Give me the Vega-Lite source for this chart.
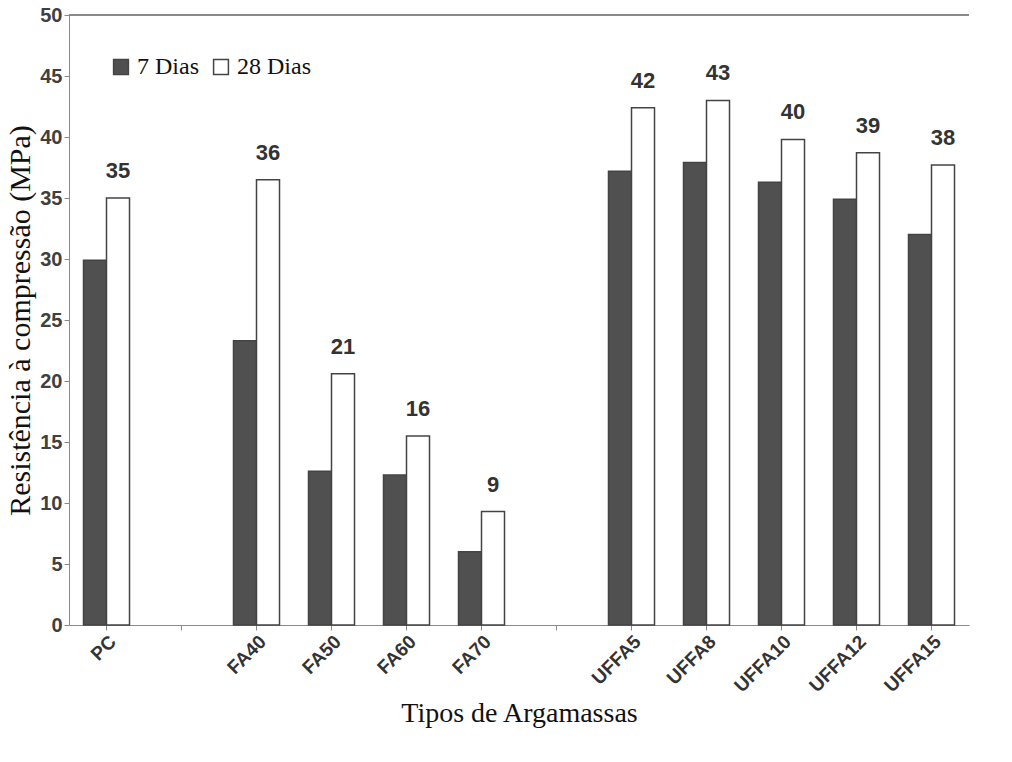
{
  "$schema": "https://vega.github.io/schema/vega-lite/v6.json",
  "width": 900,
  "height": 610,
  "background": "white",
  "config": {"view": {"stroke": null}},
  "data": {
    "values": [
      {"tipo": "PC", "idade": "7 Dias", "valor": 29.9},
      {"tipo": "PC", "idade": "28 Dias", "valor": 35.0, "rotulo": "35"},
      {"tipo": "FA40", "idade": "7 Dias", "valor": 23.3},
      {"tipo": "FA40", "idade": "28 Dias", "valor": 36.5, "rotulo": "36"},
      {"tipo": "FA50", "idade": "7 Dias", "valor": 12.6},
      {"tipo": "FA50", "idade": "28 Dias", "valor": 20.6, "rotulo": "21"},
      {"tipo": "FA60", "idade": "7 Dias", "valor": 12.3},
      {"tipo": "FA60", "idade": "28 Dias", "valor": 15.5, "rotulo": "16"},
      {"tipo": "FA70", "idade": "7 Dias", "valor": 6.0},
      {"tipo": "FA70", "idade": "28 Dias", "valor": 9.3, "rotulo": "9"},
      {"tipo": "UFFA5", "idade": "7 Dias", "valor": 37.2},
      {"tipo": "UFFA5", "idade": "28 Dias", "valor": 42.4, "rotulo": "42"},
      {"tipo": "UFFA8", "idade": "7 Dias", "valor": 37.9},
      {"tipo": "UFFA8", "idade": "28 Dias", "valor": 43.0, "rotulo": "43"},
      {"tipo": "UFFA10", "idade": "7 Dias", "valor": 36.3},
      {"tipo": "UFFA10", "idade": "28 Dias", "valor": 39.8, "rotulo": "40"},
      {"tipo": "UFFA12", "idade": "7 Dias", "valor": 34.9},
      {"tipo": "UFFA12", "idade": "28 Dias", "valor": 38.7, "rotulo": "39"},
      {"tipo": "UFFA15", "idade": "7 Dias", "valor": 32.0},
      {"tipo": "UFFA15", "idade": "28 Dias", "valor": 37.7, "rotulo": "38"}
    ]
  },
  "layer": [
    {
      "mark": {"type": "bar", "stroke": "#444444", "strokeWidth": 1.5},
      "encoding": {
        "x": {
          "field": "tipo",
          "type": "nominal",
          "scale": {
            "domain": ["PC", " ", "FA40", "FA50", "FA60", "FA70", "  ", "UFFA5", "UFFA8", "UFFA10", "UFFA12", "UFFA15"],
            "paddingInner": 0,
            "paddingOuter": 0
          },
          "title": "Tipos de Argamassas",
          "axis": {
            "labelAngle": -45,
            "labelFont": "Liberation Sans",
            "labelFontWeight": "bold",
            "labelFontSize": 19,
            "labelColor": "#333333",
            "tickColor": "#8a8a8a",
            "domainColor": "#8a8a8a",
            "titleFont": "Liberation Serif",
            "titleFontSize": 28,
            "titleFontWeight": "normal",
            "titleColor": "#111111"
          }
        },
        "xOffset": {
          "field": "idade",
          "type": "nominal",
          "scale": {"domain": ["7 Dias", "28 Dias"], "paddingOuter": 0.63, "paddingInner": 0}
        },
        "y": {
          "field": "valor",
          "type": "quantitative",
          "scale": {"domain": [0, 50]},
          "title": "Resistência à compressão (MPa)",
          "axis": {
            "tickCount": 10,
            "grid": false,
            "labelFont": "Liberation Sans",
            "labelFontWeight": "bold",
            "labelFontSize": 20,
            "labelColor": "#404040",
            "tickColor": "#8a8a8a",
            "domainColor": "#8a8a8a",
            "titleFont": "Liberation Serif",
            "titleFontSize": 30,
            "titleFontWeight": "normal",
            "titleColor": "#111111"
          }
        },
        "color": {
          "field": "idade",
          "type": "nominal",
          "title": null,
          "scale": {"domain": ["7 Dias", "28 Dias"], "range": ["#505050", "#ffffff"]},
          "legend": {
            "orient": "top-left",
            "direction": "horizontal",
            "offset": 40,
            "labelFont": "Liberation Serif",
            "labelFontSize": 24,
            "labelColor": "#111111",
            "symbolType": "square",
            "symbolSize": 220,
            "symbolStrokeColor": "#444444"
          }
        }
      }
    },
    {
      "mark": {"type": "rule", "color": "#8a8a8a", "strokeWidth": 2},
      "encoding": {"y": {"datum": 50}}
    },
    {
      "transform": [{"filter": "datum.idade == '28 Dias'"}],
      "mark": {
        "type": "text",
        "font": "Liberation Sans",
        "fontWeight": "bold",
        "fontSize": 22,
        "color": "#333333",
        "baseline": "middle",
        "dy": -27
      },
      "encoding": {
        "x": {"field": "tipo", "type": "nominal"},
        "xOffset": {"field": "idade", "type": "nominal"},
        "y": {"field": "valor", "type": "quantitative"},
        "text": {"field": "rotulo", "type": "nominal"}
      }
    }
  ]
}
